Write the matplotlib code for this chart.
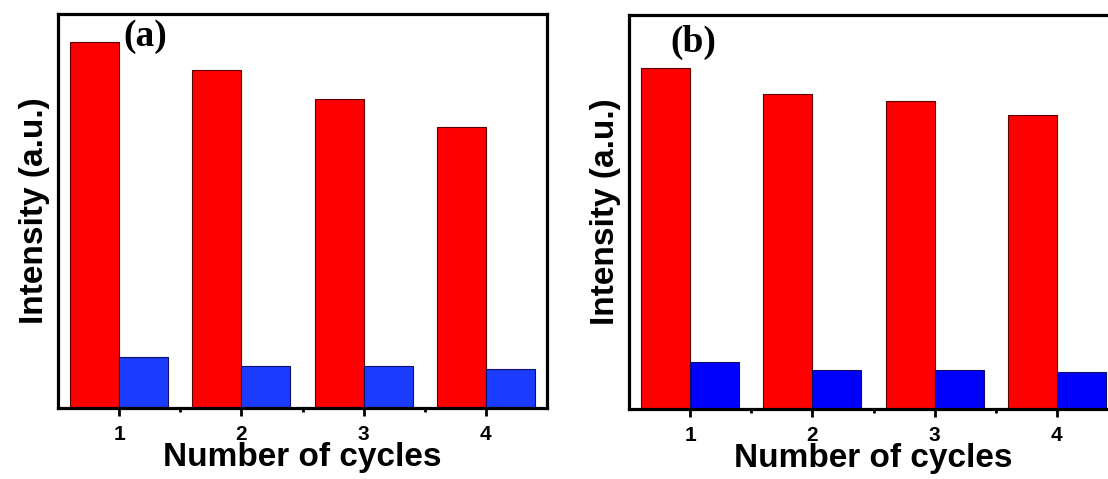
import numpy as np
import matplotlib.pyplot as plt
from matplotlib.ticker import FixedLocator

cycles = [1, 2, 3, 4]
tick_labels = ["1", "2", "3", "4"]

# panel (a)
red_a = [366, 338, 309, 281]
blue_a = [51, 42, 42, 39]

# panel (b)
red_b = [341, 315, 308, 294]
blue_b = [47, 39, 39, 37]

panels = [
    ("(a)", red_a, blue_a, "#ff0000", "#1b3cff", [58, 14, 547, 408], (0.133, 0.942)),
    ("(b)", red_b, blue_b, "#ff0000", "#0000ff", [629, 15, 1118, 409], (0.084, 0.931)),
]

W, H = 1108, 479
fig = plt.figure(figsize=(W / 100, H / 100), dpi=100)

for tag, red, blue, c_red, c_blue, box, tag_pos in panels:
    x0, y0, x1, y1 = box
    ax = fig.add_axes([x0 / W, 1 - y1 / H, (x1 - x0) / W, (y1 - y0) / H])
    x = np.array(cycles)
    w = 0.4
    ax.bar(x - w / 2, red, width=w, color=c_red, edgecolor="#5a0000", linewidth=0.8)
    ax.bar(x + w / 2, blue, width=w, color=c_blue, edgecolor="#10106a", linewidth=0.8)

    ax.set_xlim(0.5, 4.5)
    ax.set_ylim(0, 394)
    ax.set_xticks(cycles)
    ax.set_xticklabels(tick_labels, fontfamily="Liberation Sans", fontweight="bold", fontsize=15)
    ax.xaxis.set_minor_locator(FixedLocator([1.5, 2.5, 3.5]))
    ax.tick_params(axis="x", which="major", direction="out", length=6, width=2, pad=6)
    ax.tick_params(axis="x", which="minor", direction="out", length=3, width=2)
    ax.set_yticks([])
    for s in ax.spines.values():
        s.set_linewidth(2.3)

    ax.set_xlabel("Number of cycles", fontfamily="Liberation Sans", fontweight="bold",
                  fontsize=24, labelpad=-1)
    ax.set_ylabel("Intensity (a.u.)", fontfamily="Liberation Sans", fontweight="bold",
                  fontsize=24, labelpad=6)
    ax.text(tag_pos[0], tag_pos[1], tag, transform=ax.transAxes, ha="left", va="center",
            fontfamily="Liberation Serif", fontweight="bold", fontsize=27)

fig.savefig("out.png", dpi=100)
